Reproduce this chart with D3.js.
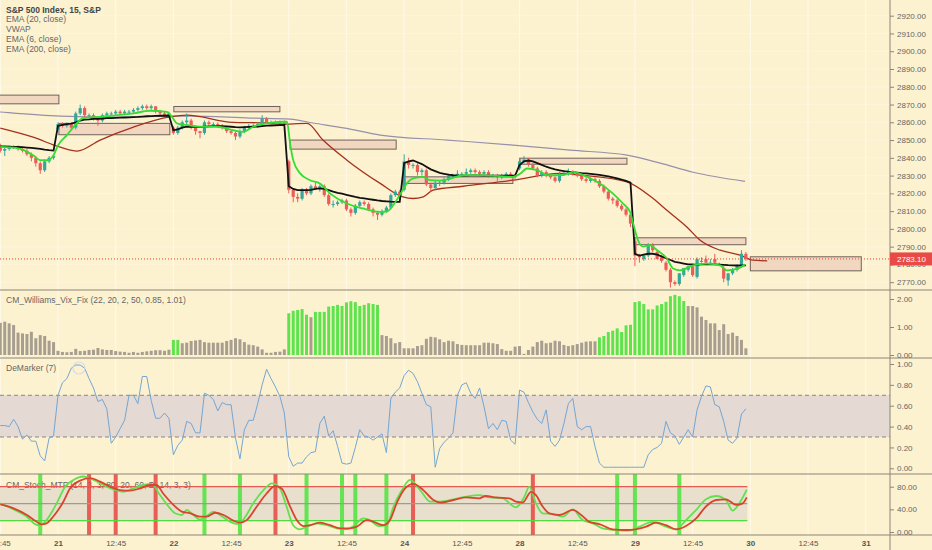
<!DOCTYPE html>
<html>
<head>
<meta charset="utf-8">
<script src="https://cdn.jsdelivr.net/npm/d3@7"></script>
<style>
body { margin: 0; background: #fdf2d0; }
svg { display: block; }
</style>
</head>
<body>
<svg id="chart" width="932" height="550"></svg>
<script>
// 15 min bars, bar 0 = 20th 12:45, last bar = 29th 15:45
var opens = [
  2847,2844,2845,2846,2846,2845,2844,2842,2840,2837,2833,2838,2840,
  2856,2859,2858,2859,2857,2865,2868,2864,2864,2862,2861,2864,2865,2865,2866,2865,2866,2866,2867,2868,2869,2868,2869,2866,2865,2864,
  2857,2854,2857,2860,2861,2857,2855,2854,2860,2859,2859,2858,2857,2855,2854,2852,2855,2857,2858,2858,2859,2862,2860,2860,2859,2860,
  2838,2822,2818,2817,2822,2820,2824,2823,2824,2819,2814,2814,2815,2816,2811,2809,2813,2815,2814,2811,2809,2808,2810,2812,2819,2821,
  2822,2838,2836,2836,2832,2833,2825,2823,2826,2826,2828,2830,2830,2831,2831,2832,2833,2832,2831,2832,2830,2830,2829,2830,2831,2830,
  2834,2838,2839,2836,2834,2830,2832,2830,2829,2827,2831,2831,2832,2831,2830,2828,2827,2828,2827,2824,2821,2817,2816,2813,2811,2808,
  2793,2785,2783,2785,2791,2787,2784,2781,2777,2770,2769,2774,2777,2779,2773,2782,2783,2781,2783,2780,2778,2771,2775,2777,2779,2786
];
var highs = [
  2848,2846,2847,2847,2847,2846,2845,2843,2841,2838,2839,2841,2842,
  2860,2860,2860,2860,2866,2870,2869,2865,2865,2863,2865,2866,2866,2867,2867,2867,2867,2868,2869,2870,2870,2870,2869,2867,2866,2866,
  2858,2858,2861,2865,2862,2857,2855,2861,2861,2860,2860,2859,2858,2856,2855,2856,2858,2859,2859,2860,2864,2863,2861,2861,2861,2861,
  2839,2823,2820,2823,2823,2825,2826,2825,2825,2820,2816,2816,2817,2817,2812,2814,2816,2816,2815,2812,2810,2811,2813,2820,2822,2822,
  2842,2840,2837,2837,2834,2834,2826,2827,2827,2829,2831,2831,2833,2832,2834,2834,2834,2833,2833,2833,2831,2831,2831,2832,2832,2831,
  2840,2841,2840,2837,2835,2833,2833,2831,2830,2832,2833,2834,2833,2832,2831,2829,2829,2829,2828,2825,2822,2818,2817,2814,2812,2809,
  2794,2786,2786,2792,2792,2788,2785,2782,2778,2771,2775,2778,2779,2780,2784,2784,2785,2783,2786,2781,2779,2775,2778,2780,2788,2787
];
var lows = [
  2843,2841,2844,2845,2844,2843,2841,2838,2835,2831,2832,2837,2839,
  2855,2857,2857,2856,2856,2864,2863,2863,2861,2858,2860,2863,2864,2864,2864,2864,2865,2865,2866,2867,2867,2867,2865,2864,2863,2863,
  2853,2853,2856,2859,2856,2853,2851,2853,2858,2858,2857,2856,2854,2853,2850,2851,2854,2856,2857,2857,2858,2859,2859,2858,2858,2858,
  2820,2815,2815,2816,2819,2819,2822,2821,2818,2813,2812,2813,2814,2810,2807,2808,2812,2813,2810,2807,2805,2807,2809,2811,2818,2816,
  2821,2834,2834,2830,2830,2824,2821,2822,2824,2825,2827,2829,2829,2830,2830,2831,2831,2830,2830,2829,2829,2827,2828,2829,2829,2827,
  2833,2837,2835,2833,2829,2829,2829,2828,2826,2826,2830,2830,2830,2829,2827,2826,2826,2826,2823,2820,2816,2814,2812,2810,2807,2801,
  2779,2781,2782,2784,2787,2783,2781,2776,2767,2768,2768,2773,2776,2773,2772,2781,2780,2780,2780,2779,2770,2768,2774,2776,2778,2782
];
var closes = [
  2844,2845,2846,2846,2845,2844,2842,2840,2837,2833,2838,2840,2841,
  2859,2858,2859,2857,2865,2868,2864,2864,2862,2861,2864,2865,2865,2866,2865,2866,2866,2867,2868,2869,2868,2869,2866,2865,2864,2865,
  2854,2857,2860,2861,2857,2855,2854,2860,2859,2859,2858,2857,2855,2854,2852,2855,2857,2858,2858,2859,2862,2860,2860,2859,2860,2859,
  2822,2818,2817,2822,2820,2824,2823,2824,2819,2814,2814,2815,2816,2811,2809,2813,2815,2814,2811,2809,2808,2810,2812,2819,2821,2818,
  2838,2836,2836,2832,2833,2825,2823,2826,2826,2828,2830,2830,2831,2831,2832,2833,2832,2831,2832,2830,2830,2829,2830,2831,2830,2829,
  2838,2839,2836,2834,2830,2832,2830,2829,2827,2831,2831,2832,2831,2830,2828,2827,2828,2827,2824,2821,2817,2816,2813,2811,2808,2803,
  2785,2784,2785,2791,2788,2783,2782,2777,2770,2769,2775,2778,2779,2774,2783,2782,2781,2781,2781,2780,2772,2775,2777,2779,2786,2783.1
];
var lastPrice = 2783.1;

var vwap = [
  2846.5,2846.4,2846.3,2846.2,2846.1,2846,2845.8,2845.6,2845.3,2845,2844.6,2844.3,2844.1,
  2858,2858.5,2859,2859.2,2860,2861,2861.5,2861.7,2862,2862,2862.1,2862.3,2862.4,2862.5,2862.6,2862.7,2862.8,2862.9,2863,2863.2,2863.4,2863.5,2863.6,2863.7,2863.7,2863.8,
  2855.5,2856,2857,2857.5,2857.6,2857.5,2857.3,2857.5,2857.7,2857.8,2857.8,2857.8,2857.7,2857.5,2857.3,2857.2,2857.3,2857.4,2857.5,2857.6,2857.9,2858.1,2858.2,2858.3,2858.4,2858.5,
  2824,2822.5,2821.8,2821.8,2821.8,2822,2822.5,2822.8,2822.5,2821.8,2821,2820.3,2819.8,2819.2,2818.6,2818,2817.5,2817.2,2816.8,2816.4,2816,2815.7,2815.5,2815.3,2815.2,2815.2,
  2837,2838,2838.5,2837.5,2836.5,2835,2833.5,2832.5,2831.5,2831,2830.5,2830.2,2830,2830,2830,2830.1,2830.1,2830.1,2830,2830,2830,2830,2830,2830,2830,2830,
  2836,2838,2838.5,2838,2837,2836,2835,2834.2,2833.5,2833,2832.5,2832.2,2832,2831.7,2831.4,2831.2,2831,2830.7,2830.4,2830,2829.5,2829,2828.4,2827.8,2827,2826,
  2786,2785,2785.5,2786,2786,2785.5,2784.5,2783.5,2782.5,2781.5,2781,2780.5,2780,2780,2779.8,2780,2780,2780,2780,2779.9,2779.8,2779.6,2779.5,2779.4,2779.4,2779.5
];

// [bar, value] read along the moving averages
var ema6 = [[0,2846.2],[3.8,2845.5],[7.4,2841.5],[9,2838.7],[10.7,2838.7],[12,2841.5],[13,2847],[15,2852.8],[17.3,2859.6],[18.6,2862.4],[22.5,2863.1],[30,2865],[33.7,2866.5],[37.5,2865.9],[38.7,2863],[39.8,2859.4],[42,2858.5],[45,2857.5],[48.8,2857.5],[52.4,2855.6],[54.7,2854.6],[57,2857.5],[60,2859.4],[63.7,2860.3],[64.6,2860.3],[65.3,2848],[66,2838.7],[67.5,2831.4],[69.8,2827.4],[72,2825.6],[74.3,2820],[78.1,2814.3],[81.7,2811.5],[85.6,2809.6],[87.1,2809.8],[88.5,2813.3],[90,2819],[91.6,2825.6],[93,2828.4],[95.2,2829.3],[96.8,2827.4],[99,2827.2],[101.3,2828.2],[104.3,2830.2],[108,2830.3],[112,2829.8],[115.5,2829.3],[117.1,2831],[118.7,2834],[121,2833],[123.2,2830.2],[126.8,2830.3],[129,2832.1],[132.2,2829.3],[135.1,2825.6],[138,2820],[140.3,2814.3],[141.9,2809.6],[142.6,2803],[143.7,2793.6],[144.8,2790],[146.4,2790.8],[148,2788],[150.2,2783.3],[151.6,2777.7],[153.2,2776.7],[156.1,2779.5],[159.2,2780.5],[162.2,2779.5],[163.7,2776.7],[166,2777.5],[167.8,2780]];
var ema20 = [[0,2856.7],[7.4,2851.6],[13.5,2846],[17.3,2843.8],[22.5,2850],[30,2857.3],[38.2,2863],[42,2864],[52.4,2860],[60,2859.6],[63,2858.9],[69.1,2859.4],[72.7,2850],[78.1,2838.7],[85.6,2825.6],[90.7,2818],[93,2817.1],[95.3,2818],[97.5,2821.8],[104.3,2824],[115.5,2827.4],[126.1,2831.2],[130.6,2830.3],[141.2,2826.5],[147.1,2817.1],[150.2,2810.5],[154.7,2801.1],[157.7,2793.6],[162.2,2788],[166.7,2785.2],[169.6,2782.4],[172.8,2782]];
var ema200 = [[-1,2866],[0,2865.8],[13.5,2863.5],[25.9,2862.9],[38.2,2863.5],[42.7,2863.5],[56.3,2862.4],[65.3,2861.8],[70.5,2859.6],[77.7,2856.7],[85.6,2852.8],[100.7,2850],[115.5,2847.2],[128.4,2844.3],[141.2,2841.5],[148.7,2837],[156.1,2831.9],[167.8,2826.8]];

// daily zones
var zoneFrom = [-2, 13.2, 39.1, 65.3, 91, 117.1, 143, 169];
var zoneTo   = [13.2, 38.2, 63, 89.2, 115.5, 141.2, 168, 194];
var zoneLow  = [2870.4, 2853, 2865.9, 2844.9, 2825.6, 2836.4, 2791.1, 2776.4];
var zoneHigh = [2875.3, 2859.4, 2868.9, 2850, 2829.3, 2839.8, 2795, 2784.3];

var vixFix = [
  1.15,1.19,1.13,1.07,0.80,0.77,0.75,0.83,0.60,0.71,0.68,0.51,0.46,
  0.15,0.11,0.10,0.11,0.22,0.14,0.15,0.18,0.19,0.25,0.20,0.18,0.18,0.14,0.12,0.11,0.08,0.11,0.08,0.11,0.13,0.15,0.17,0.17,0.15,0.19,
  0.54,0.54,0.42,0.44,0.50,0.52,0.54,0.46,0.44,0.44,0.44,0.44,0.50,0.54,0.60,0.56,0.46,0.37,0.35,0.30,0.20,0.08,0.08,0.11,0.12,0.20,
  1.49,1.58,1.61,1.64,1.44,1.35,1.54,1.54,1.54,1.73,1.75,1.79,1.75,1.88,1.92,1.89,1.75,1.79,1.85,1.82,1.79,0.71,0.68,0.60,0.42,0.46,
  0.24,0.24,0.24,0.32,0.35,0.58,0.65,0.63,0.56,0.46,0.51,0.49,0.39,0.36,0.35,0.35,0.35,0.35,0.44,0.44,0.42,0.39,0.21,0.15,0.15,0.30,
  0.32,0.04,0.18,0.30,0.46,0.51,0.42,0.44,0.51,0.49,0.36,0.32,0.35,0.39,0.44,0.48,0.49,0.49,0.63,0.68,0.82,0.87,0.95,0.82,1.06,1.08,
  1.89,1.92,1.82,1.63,1.63,1.77,1.82,1.90,2.10,2.15,2.10,1.93,1.75,1.75,1.70,1.37,1.25,1.13,1.13,0.89,1.10,0.75,0.80,0.68,0.54,0.24
];
var vixAlerts = [39,40,65,66,67,68,69,71,72,73,74,75,76,77,78,79,80,81,82,83,84,85,
  135,136,137,138,139,140,141,142,143,144,145,146,147,148,149,150,151,152,153,154];

var deMarker = [
  0.41,0.41,0.40,0.47,0.40,0.28,0.32,0.26,0.26,0.12,0.07,0.29,0.31,
  0.70,0.82,0.86,0.96,0.99,0.99,0.96,0.86,0.77,0.64,0.66,0.57,0.24,0.30,0.38,0.46,0.70,0.70,0.62,0.88,0.88,0.65,0.48,0.48,0.53,0.48,
  0.13,0.22,0.27,0.45,0.43,0.34,0.34,0.72,0.70,0.66,0.55,0.63,0.61,0.61,0.29,0.09,0.37,0.46,0.46,0.62,0.80,0.95,0.86,0.78,0.69,0.53,
  0.11,0.02,0.05,0.05,0.11,0.15,0.16,0.43,0.50,0.31,0.36,0.21,0.05,0.04,0.05,0.20,0.37,0.31,0.30,0.27,0.30,0.33,0.15,0.67,0.73,0.77,
  0.89,0.94,0.91,0.83,0.72,0.61,0.59,0.01,0.19,0.25,0.29,0.34,0.70,0.80,0.82,0.72,0.67,0.77,0.59,0.38,0.43,0.37,0.46,0.45,0.27,0.23,
  0.75,0.73,0.63,0.54,0.47,0.43,0.56,0.26,0.21,0.27,0.43,0.62,0.67,0.40,0.37,0.40,0.40,0.21,0.05,0.01,0.01,0.01,0.01,0.01,0.01,0.01,
  0.01,0.01,0.01,0.13,0.18,0.20,0.24,0.45,0.34,0.31,0.23,0.30,0.37,0.30,0.56,0.69,0.79,0.78,0.61,0.59,0.45,0.27,0.24,0.29,0.52,0.57
];

var stochK = [[0,50.6],[3,40],[6,27],[7.8,14],[9,12],[10.4,21],[12.7,50.6],[14.6,80],[16.5,92],[18.7,98],[21,92],[23.2,83],[25.5,75],[27.7,71],[30,77],[32.2,83],[34.1,85],[36,65],[37.9,45],[39.4,33],[40.9,30],[42,39],[43.1,33],[45,22],[46.5,28],[48,36],[49.5,30],[51.8,18],[53.7,14],[55.2,27],[57,50.6],[59.3,74],[61.2,86],[63,77],[64.5,45],[66,12],[67.5,4.7],[69.1,9.4],[71.3,15.3],[73.6,12],[75.8,6.5],[78.1,4.7],[79.6,10.5],[81.8,24],[83.3,21],[85.2,10.5],[87.1,12],[88.6,45],[90.5,74],[92.3,92],[94.6,74],[96.9,53.5],[99.1,53.5],[102.1,57.7],[105,62.4],[107.9,65],[110.2,61],[113.2,59.5],[116.2,43.6],[118.1,62.4],[119.2,80],[120.7,50.6],[122.2,33],[124.5,32],[126.7,27],[129,40],[131.2,21],[133.5,15.3],[135.7,6.5],[138.7,3.5],[141.7,2.3],[144,9.4],[147,18],[150,9.4],[152.3,4.7],[154.5,21],[156.8,39],[159,57.7],[161.3,63.6],[163.5,56.5],[165,37.7],[166.5,50.6],[168.2,75]];
var stochD = [[0,48.8],[3,41.8],[6,30],[8.2,18],[9.3,13.5],[10.4,15.3],[11.9,27],[14.2,53.5],[15.7,77],[18,90.7],[20.2,95],[22.5,89],[24.7,80],[27,74],[29.2,73],[31.5,77],[33.7,83],[35.2,83],[36.7,68],[39,48],[40.9,36],[42.8,33],[45,27],[46.5,27],[48.4,34],[50.3,30],[52.5,20],[54,16.5],[55.5,21],[57.8,45],[60,68],[61.9,81],[63.4,77],[65.3,45],[66.8,21],[68.3,10.5],[69.8,12],[72.1,16.5],[74.3,12],[76.6,6.5],[78.8,6.5],[80.3,9.4],[82.6,21],[84.1,18],[86.3,12],[87.8,21],[89.3,50.6],[91.2,77],[93.1,85],[95.3,74],[97.6,56.5],[99.1,52],[102.1,56.5],[105,61],[107.9,59.5],[109.4,63.6],[111.7,61],[114.7,59.5],[116.2,53.5],[117.7,52],[119.6,71],[120.7,65],[122.2,45],[123.7,33],[126,30],[129,39],[130.9,30],[132.7,18],[135,14],[138,4.7],[141,3.5],[143.2,4.7],[145.5,9.4],[147.8,16.5],[150,12],[152.3,4.7],[154.5,10.5],[156.8,24],[159,45],[161.3,56.5],[163.5,57.7],[165.8,48],[167.3,50.6],[168.2,61]];
var stochHigh = [20, 26, 35, 62, 93, 120];
var stochLow = [9, 46, 54, 69, 77, 80, 87, 139, 143, 153];

var timeTicks = [0, 13, 26, 39, 52, 65, 78, 91, 104, 117, 130, 143, 156, 169, 182, 195];
var timeLabels = ["12:45","21","12:45","22","12:45","23","12:45","24","12:45","28","12:45","29","12:45","30","12:45","31"];
var priceTicks = [2770,2780,2790,2800,2810,2820,2830,2840,2850,2860,2870,2880,2890,2900,2910,2920];
var vixTicks = [0, 1, 2];
var demTicks = [0, 0.2, 0.4, 0.6, 0.8, 1];
var stochTicks = [0, 40, 80];

var width = 932, height = 550, axisX = 890;
var upCol = "#35a69a", downCol = "#ec5d59";
var axisFont = "'Liberation Sans', Arial, sans-serif";
var textFont = "'Liberation Sans', Arial, sans-serif";

var x = d3.scaleLinear().domain([0, 200]).range([0.3, 0.3 + 200 * 4.438]);
var yMain = d3.scaleLinear().domain([2770, 2920]).range([282.2, 15.7]);
var yVix = d3.scaleLinear().domain([0, 2]).range([355, 299]);
var yDem = d3.scaleLinear().domain([0, 1]).range([468.3, 364]);
var yStoch = d3.scaleLinear().domain([0, 80]).range([532, 486.7]);

var panels = [[0, 290], [290, 358], [358, 474], [474, 535]];

var svg = d3.select("#chart");
svg.append("rect").attr("width", width).attr("height", height).attr("fill", "#fdf2d0");

var defs = svg.append("defs");
panels.forEach(function(p, i) {
    defs.append("clipPath").attr("id", "clip" + i)
        .append("rect").attr("x", 0).attr("y", p[0]).attr("width", axisX).attr("height", p[1] - p[0]);
});

// grid
svg.append("g").selectAll("line").data(timeTicks).enter().append("line")
    .attr("x1", d => x(d)).attr("x2", d => x(d))
    .attr("y1", 0).attr("y2", 535)
    .attr("stroke", "#fff9ea").attr("stroke-width", 1);
svg.append("g").selectAll("line").data(priceTicks).enter().append("line")
    .attr("x1", 0).attr("x2", axisX)
    .attr("y1", d => yMain(d)).attr("y2", d => yMain(d))
    .attr("stroke", "#fff7e4").attr("stroke-width", 1).attr("opacity", 0.6);

// ---------- main panel ----------
var main = svg.append("g").attr("clip-path", "url(#clip0)");

main.selectAll("rect.zone").data(zoneFrom).enter().append("rect")
    .attr("class", "zone")
    .attr("x", (d, i) => x(zoneFrom[i]))
    .attr("width", (d, i) => x(zoneTo[i]) - x(zoneFrom[i]))
    .attr("y", (d, i) => yMain(zoneHigh[i]))
    .attr("height", (d, i) => yMain(zoneLow[i]) - yMain(zoneHigh[i]))
    .attr("fill", "#f1d4be").attr("fill-opacity", 0.9)
    .attr("stroke", "#6f625a").attr("stroke-width", 1);

var pairLine = d3.line().x(d => x(d[0])).y(d => yMain(d[1])).curve(d3.curveMonotoneX);

main.append("path").datum(ema200).attr("d", pairLine)
    .attr("fill", "none").attr("stroke", "#9690aa").attr("stroke-width", 1.2);
main.append("path").datum(ema20).attr("d", pairLine)
    .attr("fill", "none").attr("stroke", "#a5301c").attr("stroke-width", 1.3);

var bars = closes.map(function(c, i) {
    return {i: i, o: opens[i], h: highs[i], l: lows[i], c: c};
});
var candle = main.selectAll("g.candle").data(bars).enter().append("g").attr("class", "candle");
candle.append("line")
    .attr("x1", d => x(d.i)).attr("x2", d => x(d.i))
    .attr("y1", d => yMain(d.h)).attr("y2", d => yMain(d.l))
    .attr("stroke", d => d.c >= d.o ? upCol : downCol).attr("stroke-width", 1);
candle.append("rect")
    .attr("x", d => x(d.i) - 1.6).attr("width", 3.2)
    .attr("y", d => yMain(Math.max(d.o, d.c)))
    .attr("height", d => Math.max(1, Math.abs(yMain(d.o) - yMain(d.c))))
    .attr("fill", d => d.c >= d.o ? upCol : downCol);

main.append("path").datum(vwap)
    .attr("d", d3.line().x((d, i) => x(i)).y(d => yMain(d)))
    .attr("fill", "none").attr("stroke", "#111").attr("stroke-width", 1.8);
main.append("path").datum(ema6).attr("d", pairLine)
    .attr("fill", "none").attr("stroke", "#33dd33").attr("stroke-width", 1.8);

// last price line
svg.append("line")
    .attr("x1", 0).attr("x2", axisX)
    .attr("y1", yMain(lastPrice)).attr("y2", yMain(lastPrice))
    .attr("stroke", "#e0403c").attr("stroke-width", 1).attr("stroke-dasharray", "1,2");

// legend
var legend = ["S&P 500 Index, 15, S&P", "EMA (20, close)", "VWAP", "EMA (6, close)", "EMA (200, close)"];
svg.append("g").selectAll("text").data(legend).enter().append("text")
    .attr("x", 6).attr("y", (d, i) => 12.5 + i * 9.8)
    .attr("font-family", textFont).attr("font-size", 8.5)
    .attr("font-weight", (d, i) => i == 0 ? "bold" : "normal")
    .attr("fill", (d, i) => i == 0 ? "#444" : "#666")
    .text(d => d);

// ---------- vix fix ----------
var vix = svg.append("g").attr("clip-path", "url(#clip1)");
vix.append("text").attr("x", 6).attr("y", 303)
    .attr("font-family", textFont).attr("font-size", 8.5).attr("fill", "#666")
    .text("CM_Williams_Vix_Fix (22, 20, 2, 50, 0.85, 1.01)");
vix.selectAll("rect").data(vixFix).enter().append("rect")
    .attr("x", (d, i) => x(i) - 1.5).attr("width", 3)
    .attr("y", d => yVix(d)).attr("height", d => yVix(0) - yVix(d))
    .attr("fill", (d, i) => vixAlerts.indexOf(i) >= 0 ? "#5ee34c" : "#a89e90");

// ---------- demarker ----------
var dem = svg.append("g").attr("clip-path", "url(#clip2)");
dem.append("rect").attr("x", 0).attr("width", axisX)
    .attr("y", yDem(0.7)).attr("height", yDem(0.3) - yDem(0.7))
    .attr("fill", "#e4d9d3");
[0.7, 0.3].forEach(function(v) {
    dem.append("line").attr("x1", 0).attr("x2", axisX)
        .attr("y1", yDem(v)).attr("y2", yDem(v))
        .attr("stroke", "#8a8580").attr("stroke-dasharray", "4,3");
});
dem.append("path").datum(deMarker)
    .attr("d", d3.line().x((d, i) => x(i)).y(d => yDem(d)))
    .attr("fill", "none").attr("stroke", "#74a6d2").attr("stroke-width", 1);
dem.append("text").attr("x", 6).attr("y", 371)
    .attr("font-family", textFont).attr("font-size", 8.5).attr("fill", "#666")
    .text("DeMarker (7)");
dem.append("circle").attr("cx", 79).attr("cy", 368).attr("r", 6)
    .attr("fill", "none").attr("stroke", "#d9dbe0").attr("stroke-width", 1.2);

// ---------- stoch ----------
var sto = svg.append("g").attr("clip-path", "url(#clip3)");
var stoEnd = x(168) + 1.5;
sto.append("rect").attr("x", 0).attr("width", stoEnd)
    .attr("y", yStoch(80)).attr("height", yStoch(20) - yStoch(80))
    .attr("fill", "#e8e0cc");
sto.append("text").attr("x", 6).attr("y", 488)
    .attr("font-family", textFont).attr("font-size", 8.5).attr("fill", "#666")
    .text("CM_Stoch_MTF (14, 3, 3, 80, 20, 60, D, 14, 3, 3)");
sto.selectAll("rect.hi").data(stochHigh).enter().append("rect").attr("class", "hi")
    .attr("x", d => x(d) - 2).attr("width", 4).attr("y", 474).attr("height", 61)
    .attr("fill", "#e8453f").attr("opacity", 0.85);
sto.selectAll("rect.lo").data(stochLow).enter().append("rect").attr("class", "lo")
    .attr("x", d => x(d) - 2).attr("width", 4).attr("y", 474).attr("height", 61)
    .attr("fill", "#4be43b").attr("opacity", 0.85);
[[80, "#e25a52"], [50, "#a09a92"], [20, "#4fdc3f"]].forEach(function(l) {
    sto.append("line").attr("x1", 0).attr("x2", stoEnd)
        .attr("y1", yStoch(l[0])).attr("y2", yStoch(l[0]))
        .attr("stroke", l[1]).attr("stroke-width", 1.2);
});
var stoLine = d3.line().x(d => x(d[0])).y(d => yStoch(d[1])).curve(d3.curveMonotoneX);
sto.append("path").datum(stochK).attr("d", stoLine)
    .attr("fill", "none").attr("stroke", "#62e050").attr("stroke-width", 1.8);
sto.append("path").datum(stochD).attr("d", stoLine)
    .attr("fill", "none").attr("stroke", "#d8442e").attr("stroke-width", 1.8);

// ---------- frame ----------
[290, 358, 474, 535].forEach(function(y) {
    svg.append("line").attr("x1", 0).attr("x2", width).attr("y1", y).attr("y2", y)
        .attr("stroke", "#8c847a").attr("stroke-width", 1);
});
svg.append("line").attr("x1", axisX).attr("x2", axisX).attr("y1", 0).attr("y2", height)
    .attr("stroke", "#8c847a").attr("stroke-width", 1);

// ---------- axes ----------
function rightAxis(scale, ticks) {
    var g = svg.append("g").attr("transform", "translate(" + axisX + ",0)")
        .call(d3.axisRight(scale).tickValues(ticks).tickSize(4).tickPadding(3).tickFormat(d3.format(".2f")));
    g.select(".domain").remove();
    g.selectAll("line").attr("stroke", "#8c847a");
    g.selectAll("text").attr("font-family", axisFont).attr("font-size", 8).attr("fill", "#666");
}
rightAxis(yMain, priceTicks);
rightAxis(yVix, vixTicks);
rightAxis(yDem, demTicks);
rightAxis(yStoch, stochTicks);

// last price label
svg.append("rect").attr("x", axisX).attr("y", yMain(lastPrice) - 6.5)
    .attr("width", width - axisX).attr("height", 13).attr("fill", "#e84b47");
svg.append("text").attr("x", 897).attr("y", yMain(lastPrice) + 3)
    .attr("font-family", axisFont).attr("font-size", 8).attr("fill", "#fff")
    .text(d3.format(".2f")(lastPrice));

var tAxis = svg.append("g").attr("transform", "translate(0,535)")
    .call(d3.axisBottom(x).tickValues(timeTicks).tickSize(0).tickPadding(5)
        .tickFormat((d, i) => timeLabels[i]));
tAxis.select(".domain").remove();
tAxis.selectAll("text")
    .attr("font-family", axisFont).attr("font-size", 8).attr("fill", "#555")
    .attr("font-weight", (d, i) => timeLabels[i].indexOf(":") < 0 ? "bold" : "normal");
</script>
</body>
</html>
